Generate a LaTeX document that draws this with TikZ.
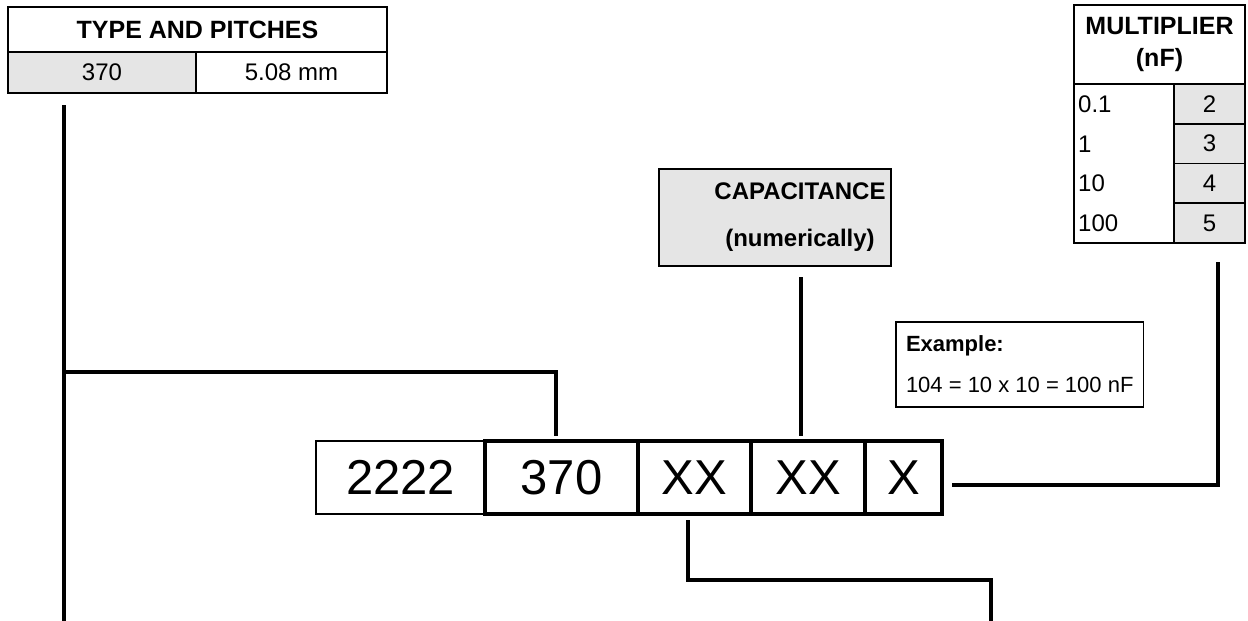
\documentclass[tikz,border=0pt]{standalone}
\usepackage{fontspec}
\setmainfont{Liberation Sans}
\usetikzlibrary{positioning}
\definecolor{cellgrey}{gray}{0.9}

\begin{document}
\begin{tikzpicture}[
    x=1pt, y=-1pt,
    tcell/.style={rectangle, draw=black, line width=1.8pt, outer sep=0pt, inner sep=0pt, font=\fontsize{24}{28}\selectfont},
    head/.style={tcell, font=\fontsize{25}{32}\selectfont\bfseries, align=center},
    codecell/.style={rectangle, draw=black, outer sep=0pt, inner sep=0pt, minimum height=73, font=\fontsize{49}{58}\selectfont},
    wire/.style={line width=3.3pt}
]
\useasboundingbox (0,0) rectangle (1248,621);

% Type and pitches table
\node[head, minimum width=379, minimum height=45, anchor=north west] (tph) at (8,7) {TYPE AND PITCHES};
\node[tcell, fill=cellgrey, minimum width=188, minimum height=41, below right=0pt and 0pt of tph.south west] (tpv) {370};
\node[tcell, minimum width=191, minimum height=41, right=0pt of tpv] (tpp) {5.08 mm};

% Multiplier table
\node[head, minimum width=171, minimum height=79, anchor=north west] (mh) at (1074,5) {MULTIPLIER\\(nF)};
\node[tcell, minimum width=100, minimum height=159, below right=0pt and 0pt of mh.south west] (mcol) {};
\foreach \v/\m [count=\i] in {0.1/2, 1/3, 10/4, 100/5} {
    \node[tcell, fill=cellgrey, minimum width=71, minimum height=39.75, anchor=north west] (m\i) at (1174,{84+39.75*(\i-1)}) {\m};
    \node[font=\fontsize{24}{28}\selectfont, anchor=west, inner sep=0pt] (v\i) at (1078,{104+39.75*(\i-1)}) {\v};
}

% Capacitance box
\node[tcell, fill=cellgrey, minimum width=232, minimum height=97] (cap) at (775,217.5) {};
\node[font=\fontsize{24}{47}\selectfont\bfseries, align=center, inner sep=0pt] (capt) at (800,217) {CAPACITANCE\\(numerically)};

% Example box
\node[tcell, anchor=north west, minimum height=85, inner xsep=10pt, align=left, font=\fontsize{22}{41}\selectfont] (ex) at (896,322) {\textbf{Example:}\\104 = 10 x 10 = 100 nF};

% Code row
\node[codecell, line width=1.7pt, minimum width=169] (c2222) at (400.5,477.5) {2222};
\node[codecell, line width=3.3pt, minimum width=153, right=0pt of c2222] (c370) {370};
\node[codecell, line width=3.3pt, minimum width=113, right=0pt of c370] (cxx1) {XX};
\node[codecell, line width=3.3pt, minimum width=114, right=0pt of cxx1] (cxx2) {XX};
\node[codecell, line width=3.3pt, minimum width=77, right=0pt of cxx2] (cx) {X};

% Connector ends
\coordinate (tpdrop) at (64,105);
\coordinate (tpfoot) at (64,621);
\coordinate (tpknee) at (64,372);
\coordinate (c370in) at (556,436);
\coordinate (capout) at (801,277);
\coordinate (cxx2in) at (801,436);
\coordinate (cxout) at (952,485);
\coordinate (mulin) at (1218,262);
\coordinate (cxx1out) at (688,520);
\coordinate (pbknee) at (991,580);
\coordinate (pbfoot) at (991,621);

% Connectors
\draw[wire] (tpdrop) -- (tpfoot);
\draw[wire] (tpknee) -| (c370in);
\draw[wire] (capout) -- (cxx2in);
\draw[wire] (cxout) -| (mulin);
\draw[wire] (cxx1out) |- (pbknee) -- (pbfoot);

\end{tikzpicture}
\end{document}
